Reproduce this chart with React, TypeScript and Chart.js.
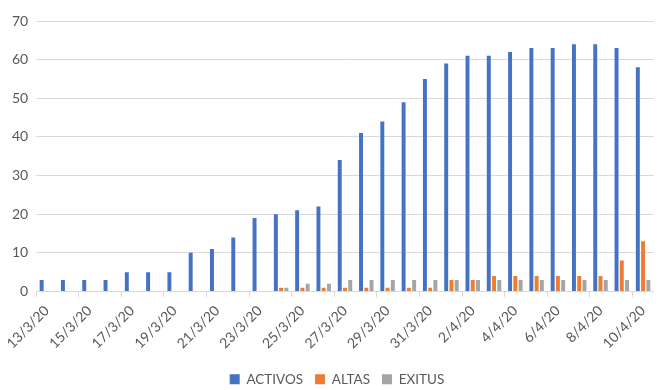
import React, { useEffect, useRef } from "react";
import { Chart, registerables } from "chart.js";

Chart.register(...registerables);

const categories = [
  "13/3/20", "14/3/20", "15/3/20", "16/3/20", "17/3/20", "18/3/20", "19/3/20",
  "20/3/20", "21/3/20", "22/3/20", "23/3/20", "24/3/20", "25/3/20", "26/3/20",
  "27/3/20", "28/3/20", "29/3/20", "30/3/20", "31/3/20", "1/4/20", "2/4/20",
  "3/4/20", "4/4/20", "5/4/20", "6/4/20", "7/4/20", "8/4/20", "9/4/20", "10/4/20",
];

const activos = [3, 3, 3, 3, 5, 5, 5, 10, 11, 14, 19, 20, 21, 22, 34, 41, 44, 49, 55, 59, 61, 61, 62, 63, 63, 64, 64, 63, 58];
const altas = [0, 0, 0, 0, 0, 0, 0, 0, 0, 0, 0, 1, 1, 1, 1, 1, 1, 1, 1, 3, 3, 4, 4, 4, 4, 4, 4, 8, 13];
const exitus = [0, 0, 0, 0, 0, 0, 0, 0, 0, 0, 0, 1, 2, 2, 3, 3, 3, 3, 3, 3, 3, 3, 3, 3, 3, 3, 3, 3, 3];

const yTicks = [0, 10, 20, 30, 40, 50, 60, 70];

const FONT = "Lato, 'Open Sans', sans-serif";
const TEXT = "#595959";
const GRID = "#D9D9D9";

const shiftLegend = {
  id: "shiftLegend",
  afterLayout(chart: any) {
    if (chart.legend) {
      chart.legend.left += 6;
      chart.legend.right += 6;
    }
  },
};

export default function App() {
  const ref = useRef<HTMLCanvasElement | null>(null);

  useEffect(() => {
    document.body.style.margin = "0";
    if (!ref.current) return;
    const chart = new Chart(ref.current, {
      type: "bar",
      data: {
        labels: categories,
        datasets: [
          { label: "ACTIVOS", data: activos, backgroundColor: "#4472C4" },
          { label: "ALTAS", data: altas, backgroundColor: "#ED7D31" },
          { label: "EXITUS", data: exitus, backgroundColor: "#A5A5A5" },
        ],
      },
      plugins: [shiftLegend],
      options: {
        animation: false,
        responsive: false,
        maintainAspectRatio: false,
        layout: { padding: { left: 4, right: 2, top: 21, bottom: -6 } },
        datasets: {
          bar: { barPercentage: 0.75, categoryPercentage: 0.74 },
        },
        plugins: {
          legend: {
            position: "bottom",
            labels: {
              boxWidth: 10,
              boxHeight: 10,
              padding: 5,
              color: TEXT,
              font: { family: FONT, size: 13.5 },
              generateLabels: (chart: any) => {
                const items = Chart.defaults.plugins.legend.labels.generateLabels(chart);
                return items.map((it: any, i: number) => ({
                  ...it,
                  text: i < items.length - 1 ? it.text + "  " : it.text,
                }));
              },
            },
          },
          tooltip: { enabled: false },
        },
        scales: {
          x: {
            offset: true,
            afterFit: (scale: any) => {
              scale.height = 76;
            },
            grid: {
              display: true,
              drawOnChartArea: false,
              drawTicks: true,
              tickLength: 6,
              offset: true,
              color: (ctx: any) => (ctx.index % 2 === 0 ? GRID : "rgba(0,0,0,0)"),
            },
            border: { display: true, color: GRID },
            ticks: {
              autoSkip: false,
              minRotation: 45,
              maxRotation: 45,
              padding: 5,
              color: TEXT,
              font: { family: FONT, size: 14 },
              callback: (_v: any, i: number) => (i % 2 === 0 ? categories[i] : ""),
            },
          },
          y: {
            min: yTicks[0],
            max: yTicks[yTicks.length - 1],
            afterBuildTicks: (axis: any) => {
              axis.ticks = yTicks.map((v) => ({ value: v }));
            },
            grid: { color: GRID, drawTicks: false },
            border: { display: false },
            ticks: {
              padding: 8,
              color: TEXT,
              font: { family: FONT, size: 14 },
            },
          },
        },
      },
    });
    return () => chart.destroy();
  }, []);

  return (
    <div style={{ width: 660, height: 390, background: "#fff" }}>
      <canvas ref={ref} width={660} height={390} style={{ display: "block" }} />
    </div>
  );
}
